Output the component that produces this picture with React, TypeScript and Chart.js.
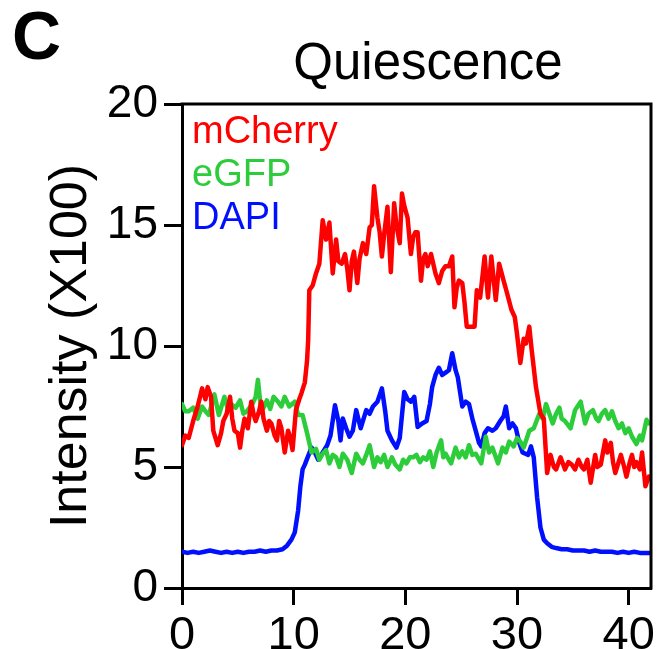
import React, { useEffect, useRef } from "react";
import { Chart, registerables } from "chart.js";

Chart.register(...registerables);

const FONT = "'Liberation Sans', Arial, Helvetica, sans-serif";

const PANEL_LABEL = "C";
const TITLE = "Quiescence";
const Y_TITLE = "Intensity (X100)";
const SERIES_NAMES = ["mCherry", "eGFP", "DAPI"];
const SERIES_COLORS = ["#ff0000", "#2ccc3a", "#0010ff"];
const X_TICKS = [0, 10, 20, 30, 40];
const Y_TICKS = [0, 5, 10, 15, 20];

const mCherryX = [0, 0.3, 0.6, 1.0, 1.4, 1.8, 2.1, 2.3, 2.6, 2.8, 3.2, 3.5, 3.7, 4.0, 4.3, 4.5, 4.7, 5.0, 5.2, 5.4, 5.6, 5.9, 6.2, 6.4, 6.6, 6.9, 7.1, 7.3, 7.6, 7.8, 8.0, 8.3, 8.5, 8.7, 8.9, 9.2, 9.5, 9.7, 9.9, 10.2, 10.5, 10.7, 11.0, 11.2, 11.3, 11.4, 11.7, 12.0, 12.3, 12.6, 12.9, 13.2, 13.5, 13.8, 14.0, 14.3, 14.6, 14.8, 15.0, 15.2, 15.4, 15.7, 15.9, 16.2, 16.5, 16.8, 17.0, 17.2, 17.5, 17.7, 17.9, 18.1, 18.4, 18.7, 19.0, 19.2, 19.5, 19.7, 19.9, 20.2, 20.5, 20.7, 20.9, 21.1, 21.4, 21.6, 21.8, 22.0, 22.3, 22.5, 22.7, 23.0, 23.3, 23.6, 23.9, 24.2, 24.4, 24.6, 24.8, 25.1, 25.3, 25.5, 25.8, 26.2, 26.4, 26.7, 27.1, 27.4, 27.7, 28.1, 28.4, 28.8, 29.1, 29.5, 29.8, 30.0, 30.3, 30.6, 30.8, 31.1, 31.3, 31.7, 32.1, 32.4, 32.7, 33.0, 33.3, 33.5, 33.9, 34.3, 34.6, 34.9, 35.2, 35.5, 35.8, 36.0, 36.3, 36.6, 37.0, 37.2, 37.5, 37.7, 37.9, 38.1, 38.4, 38.6, 38.8, 39.1, 39.3, 39.6, 39.8, 40.1, 40.3, 40.5, 40.7, 41.0, 41.2, 41.5, 41.8];
const mCherryY = [5.9, 6.3, 6.2, 6.9, 7.5, 8.25, 7.8, 8.3, 7.9, 6.5, 5.9, 6.4, 6.9, 7.2, 7.9, 7.0, 6.5, 6.4, 5.8, 6.5, 7.0, 6.6, 7.7, 7.2, 6.9, 7.3, 7.7, 7.0, 6.5, 6.9, 6.8, 6.3, 6.1, 6.9, 6.6, 5.6, 6.5, 6.2, 5.7, 7.35, 7.8, 8.05, 8.5, 9.4, 10.25, 12.3, 12.5, 13.0, 13.4, 15.2, 14.4, 15.1, 13.0, 14.4, 13.5, 13.4, 13.8, 13.2, 12.3, 13.5, 13.9, 12.6, 13.6, 14.25, 13.8, 14.9, 15.0, 16.6, 15.3, 14.7, 13.7, 14.6, 15.75, 13.05, 15.9, 15.0, 14.25, 16.3, 15.8, 15.3, 13.8, 14.5, 14.7, 14.7, 12.7, 13.6, 13.8, 13.3, 13.8, 13.4, 13.0, 12.6, 13.1, 13.3, 13.3, 13.7, 11.6, 12.4, 12.7, 12.6, 11.8, 10.8, 10.8, 10.8, 12.3, 12.0, 13.7, 12.0, 13.7, 11.9, 13.4, 12.7, 12.2, 11.5, 11.2, 10.5, 9.3, 10.3, 10.1, 10.8, 9.9, 8.3, 7.2, 7.0, 4.75, 5.5, 5.0, 4.9, 5.4, 4.9, 5.2, 5.1, 4.9, 5.3, 5.0, 4.9, 5.3, 4.35, 5.5, 5.0, 5.1, 5.6, 6.1, 5.6, 6.0, 5.2, 4.75, 5.2, 5.5, 5.0, 4.6, 5.2, 5.5, 5.0, 5.2, 4.9, 5.6, 4.2, 4.6];

const eGFPX = [0, 0.3, 0.6, 1.0, 1.4, 1.8, 2.1, 2.4, 2.9, 3.3, 3.8, 4.1, 4.4, 4.8, 5.2, 5.5, 5.8, 6.3, 6.6, 6.8, 7.1, 7.6, 7.9, 8.2, 8.6, 8.9, 9.2, 9.6, 10.1, 10.4, 10.8, 11.2, 11.6, 12.0, 12.3, 12.6, 12.9, 13.2, 13.5, 13.8, 14.1, 14.4, 14.8, 15.2, 15.6, 15.9, 16.2, 16.5, 16.8, 17.2, 17.5, 17.8, 18.1, 18.4, 18.8, 19.1, 19.5, 19.8, 20.1, 20.4, 20.7, 21.0, 21.3, 21.6, 21.9, 22.2, 22.5, 22.8, 23.2, 23.4, 23.6, 23.9, 24.1, 24.5, 24.8, 25.1, 25.4, 25.7, 26.0, 26.3, 26.8, 27.2, 27.5, 27.8, 28.3, 28.7, 29.0, 29.3, 29.7, 30.0, 30.3, 30.6, 31.1, 31.5, 32.0, 32.3, 32.6, 32.9, 33.2, 33.5, 33.8, 34.0, 34.3, 34.8, 35.2, 35.7, 36.1, 36.4, 36.8, 37.1, 37.3, 37.6, 37.9, 38.2, 38.5, 38.8, 39.1, 39.4, 39.7, 40.0, 40.3, 40.7, 41.0, 41.2, 41.6, 41.8];
const eGFPY = [7.6, 7.3, 7.3, 7.45, 7.0, 7.5, 7.3, 7.15, 8.0, 7.15, 7.9, 7.4, 7.6, 7.45, 7.75, 7.2, 7.3, 7.6, 7.9, 8.6, 7.25, 7.75, 7.4, 7.9, 7.7, 7.5, 7.9, 7.5, 7.7, 7.15, 7.15, 6.4, 5.6, 5.75, 5.3, 5.55, 5.7, 5.15, 5.5, 5.4, 5.0, 5.55, 5.3, 4.75, 5.55, 5.3, 5.15, 5.5, 5.9, 5.0, 5.4, 5.2, 5.5, 5.0, 5.4, 5.1, 4.9, 5.3, 5.15, 5.4, 5.4, 5.5, 5.2, 5.4, 5.3, 5.65, 5.0, 5.6, 6.1, 5.4, 5.55, 5.3, 5.15, 5.8, 5.4, 5.65, 5.4, 5.9, 5.5, 5.55, 5.15, 6.25, 5.6, 5.8, 5.15, 5.8, 5.6, 6.05, 5.85, 6.2, 6.05, 5.8, 6.5, 6.6, 7.2, 7.0, 7.6, 7.2, 6.8, 7.2, 7.45, 7.0, 6.9, 6.6, 7.35, 7.7, 6.8, 7.2, 7.35, 7.0, 6.9, 7.2, 7.35, 7.0, 7.3, 6.9, 6.6, 6.8, 6.4, 6.6, 6.25, 5.95, 6.3, 6.1, 6.95, 6.8];

const dapiX = [0, 0.5, 1, 1.5, 2, 2.5, 3, 3.5, 4, 4.5, 5, 5.5, 6, 6.5, 7, 7.5, 8, 8.5, 9, 9.4, 9.8, 10.1, 10.4, 10.6, 10.8, 11.0, 11.25, 11.6, 11.9, 12.2, 12.6, 13.0, 13.3, 13.7, 14.0, 14.2, 14.4, 14.7, 15.0, 15.3, 15.6, 16.0, 16.5, 16.8, 17.1, 17.5, 17.9, 18.2, 18.4, 18.8, 19.2, 19.5, 19.9, 20.2, 20.5, 20.8, 21.1, 21.5, 21.9, 22.2, 22.4, 22.7, 23.0, 23.3, 23.6, 23.9, 24.2, 24.5, 24.7, 24.9, 25.1, 25.4, 25.7, 26.0, 26.3, 26.6, 26.8, 27.1, 27.4, 27.8, 28.1, 28.5, 28.8, 29.0, 29.3, 29.6, 29.9, 30.2, 30.5, 31.0, 31.25, 31.5, 31.8, 32.1, 32.4, 32.7, 33.1, 33.5, 34, 34.5, 35, 35.5, 36, 36.5, 37, 37.5, 38, 38.5, 39, 39.5, 40, 40.5, 41, 41.5, 41.9];
const dapiY = [1.5, 1.45, 1.5, 1.45, 1.5, 1.55, 1.5, 1.45, 1.5, 1.45, 1.5, 1.45, 1.5, 1.5, 1.55, 1.5, 1.55, 1.55, 1.6, 1.75, 2.0, 2.3, 3.2, 4.2, 4.9, 5.1, 5.4, 5.8, 5.6, 5.3, 5.6, 5.9, 6.3, 7.55, 6.9, 6.1, 7.0, 6.6, 6.25, 6.5, 7.35, 6.6, 7.35, 7.2, 7.5, 7.7, 8.25, 7.3, 6.5, 6.1, 5.8, 6.2, 8.1, 7.8, 7.7, 7.9, 6.65, 6.8, 6.9, 7.6, 8.3, 8.8, 9.1, 8.8, 8.9, 9.0, 9.7, 9.0, 8.7, 8.1, 7.5, 7.7, 7.6, 7.0, 6.5, 6.0, 5.85, 6.4, 6.6, 6.5, 6.6, 6.9, 7.1, 7.5, 6.6, 6.8, 6.6, 6.0, 5.6, 5.5, 5.85, 5.4, 3.75, 2.5, 2.0, 1.85, 1.7, 1.65, 1.6, 1.6, 1.55, 1.55, 1.55, 1.5, 1.55, 1.5, 1.5, 1.5, 1.45, 1.5, 1.45, 1.5, 1.45, 1.45, 1.45];

const X_MIN = 0;
const X_MAX = 42;
const Y_MIN = 0;
const Y_MAX = 20;

function pts(xs: number[], ys: number[]) {
  return xs.map((x, i) => ({ x, y: ys[i] }));
}

const overlayPlugin = {
  id: "overlay",
  afterDraw(chart: any) {
    const { ctx, chartArea: a } = chart;
    ctx.save();
    ctx.strokeStyle = "#000";
    ctx.lineWidth = 3;
    ctx.lineCap = "square";
    ctx.beginPath();
    ctx.moveTo(a.left, a.top);
    ctx.lineTo(a.right, a.top);
    ctx.lineTo(a.right, a.bottom);
    ctx.stroke();
    ctx.textAlign = "left";
    ctx.textBaseline = "alphabetic";
    ctx.font = `38px ${FONT}`;
    chart.data.datasets.forEach((ds: any, i: number) => {
      ctx.fillStyle = ds.borderColor;
      ctx.fillText(ds.label, a.left + 10, a.top + 39 + i * 43);
    });
    ctx.fillStyle = "#000";
    ctx.textAlign = "center";
    ctx.font = `51px ${FONT}`;
    ctx.fillText(TITLE, 428, 79);
    ctx.textAlign = "left";
    ctx.font = `bold 68px ${FONT}`;
    ctx.fillText(PANEL_LABEL, 12, 59);
    ctx.restore();
  },
};

export default function App() {
  const ref = useRef<HTMLCanvasElement | null>(null);

  useEffect(() => {
    if (!ref.current) return;
    const seriesData = [pts(mCherryX, mCherryY), pts(eGFPX, eGFPY), pts(dapiX, dapiY)];
    const chart = new Chart(ref.current, {
      type: "line",
      data: {
        datasets: SERIES_NAMES.map((name, i) => ({
          label: name,
          data: seriesData[i],
          borderColor: SERIES_COLORS[i],
          backgroundColor: SERIES_COLORS[i],
          borderWidth: 4.5,
          pointRadius: 0,
          tension: 0,
          borderJoinStyle: "round",
          borderCapStyle: "round",
          fill: false,
        })),
      },
      options: {
        animation: false,
        responsive: false,
        devicePixelRatio: 1,
        layout: { padding: { top: 104, right: 19, left: 0, bottom: 0 } },
        plugins: {
          legend: { display: false },
          title: { display: false },
          tooltip: { enabled: false },
        },
        scales: {
          x: {
            type: "linear",
            min: X_MIN,
            max: X_MAX,
            afterBuildTicks: (scale: any) => {
              scale.ticks = X_TICKS.map((v) => ({ value: v }));
            },
            afterFit: (scale: any) => {
              scale.height = 61;
            },
            ticks: {
              autoSkip: false,
              maxRotation: 0,
              includeBounds: false,
              padding: 3,
              color: "#000",
              font: { family: FONT, size: 47 },
            },
            grid: {
              drawOnChartArea: false,
              drawTicks: true,
              tickLength: 17,
              tickWidth: 3,
              tickColor: "#000",
            },
            border: { display: true, color: "#000", width: 3 },
          },
          y: {
            type: "linear",
            min: Y_MIN,
            max: Y_MAX,
            afterBuildTicks: (scale: any) => {
              scale.ticks = Y_TICKS.map((v) => ({ value: v }));
            },
            afterFit: (scale: any) => {
              scale.width = 182;
            },
            ticks: {
              autoSkip: false,
              includeBounds: false,
              padding: 6,
              color: "#000",
              font: { family: FONT, size: 46 },
            },
            grid: {
              drawOnChartArea: false,
              drawTicks: true,
              tickLength: 18,
              tickWidth: 3,
              tickColor: "#000",
            },
            border: { display: true, color: "#000", width: 3 },
            title: {
              display: true,
              text: Y_TITLE,
              color: "#000",
              font: { family: FONT, size: 52 },
              padding: { top: 40, bottom: 0 },
            },
          },
        },
      },
      plugins: [overlayPlugin],
    } as any);
    return () => chart.destroy();
  }, []);

  return (
    <div style={{ position: "absolute", left: 0, top: 0, width: 670, height: 649, overflow: "hidden", background: "#fff" }}>
      <canvas ref={ref} width={670} height={649} style={{ display: "block", width: 670, height: 649 }} />
    </div>
  );
}
